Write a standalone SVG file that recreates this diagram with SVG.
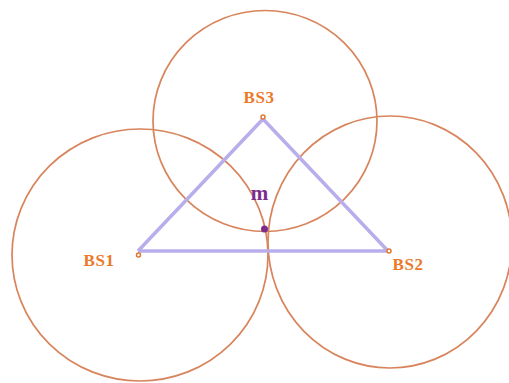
<svg xmlns="http://www.w3.org/2000/svg" width="509" height="383" viewBox="0 0 509 383">
<style>
.range{fill:none;stroke:#d8845c;stroke-width:1.7}
.edge{fill:none;stroke:#b9aeeb;stroke-width:3.5;stroke-linejoin:round}
.bs{fill:#fff;stroke:#e0782e;stroke-width:1.5}
.lbl{font-family:"Liberation Serif",serif;font-weight:bold;font-size:17px;fill:#ea7a2a;letter-spacing:0.5px}
.m{font-family:"Liberation Serif",serif;font-weight:bold;font-size:21px;fill:#7b2d8e}
</style>
<rect width="509" height="383" fill="#fff"/>
<g id="ranges">
<ellipse class="range" cx="140" cy="255" rx="128" ry="126"/>
<ellipse class="range" cx="390" cy="242" rx="122" ry="126"/>
<ellipse class="range" cx="265" cy="121" rx="112" ry="110.5"/>
</g>
<g id="connectors">
<polyline class="edge" points="138,251 388,251 263,119 138,251"/>
</g>
<g id="BS1">
<circle class="bs" cx="138.5" cy="255" r="2"/>
<text class="lbl" x="99" y="266" text-anchor="middle">BS1</text>
</g>
<g id="BS2">
<circle class="bs" cx="389" cy="251" r="2"/>
<text class="lbl" x="408" y="270" text-anchor="middle">BS2</text>
</g>
<g id="BS3">
<circle class="bs" cx="263" cy="117" r="2"/>
<text class="lbl" x="259" y="103" text-anchor="middle">BS3</text>
</g>
<g id="m">
<circle cx="264.5" cy="229" r="3.5" fill="#7b2d8e"/>
<text class="m" x="259.5" y="200" text-anchor="middle">m</text>
</g>
</svg>
